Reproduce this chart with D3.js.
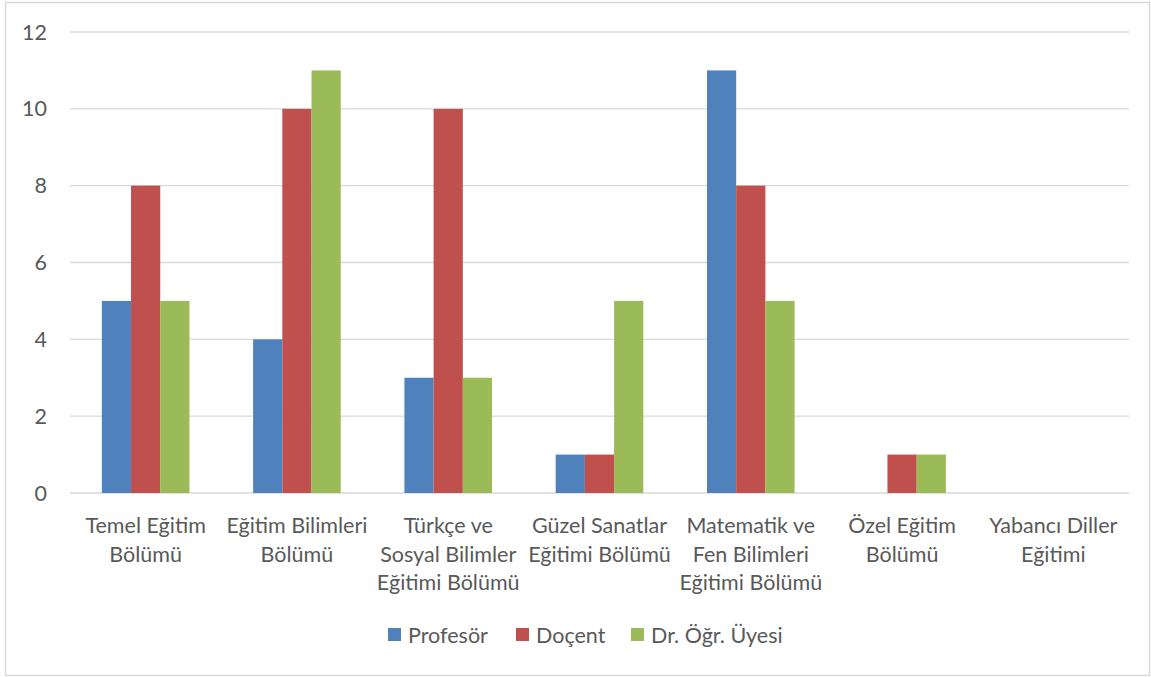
<!DOCTYPE html>
<html>
<head>
<meta charset="utf-8">
<script src="https://cdn.jsdelivr.net/npm/d3@7"></script>
<style>
  body { margin: 0; background: #fff; }
  text { font-family: Lato, "Open Sans", sans-serif; fill: #595959; }
</style>
</head>
<body>
<div id="chart"></div>
<script>
(function () {

    const categories = [
        'Temel Eğitim\nBölümü',
        'Eğitim Bilimleri\nBölümü',
        'Türkçe ve\nSosyal Bilimler\nEğitimi Bölümü',
        'Güzel Sanatlar\nEğitimi Bölümü',
        'Matematik ve\nFen Bilimleri\nEğitimi Bölümü',
        'Özel Eğitim\nBölümü',
        'Yabancı Diller\nEğitimi'
    ];
    const seriesNames = ['Profesör', 'Doçent', 'Dr. Öğr. Üyesi'];
    const profesor = [5, 4, 3, 1, 11, 0, 0];
    const docent = [8, 10, 10, 1, 8, 1, 0];
    const drOgrUyesi = [5, 11, 3, 5, 5, 1, 0];
    const yTicks = [0, 2, 4, 6, 8, 10, 12];
    const colors = ['#4F81BD', '#C0504D', '#9BBB59'];

    const seriesValues = [profesor, docent, drOgrUyesi];

    const width = 1151;
    const height = 677;
    const plot = { left: 70, right: 1129, top: 32, bottom: 493 };
    const fontSize = '21.5px';

    const svg = d3.select('#chart')
        .append('svg')
        .attr('width', width)
        .attr('height', height);

    // outer frame
    svg.append('rect')
        .attr('x', 5.5)
        .attr('y', 2.5)
        .attr('width', 1144)
        .attr('height', 673)
        .attr('fill', '#fff')
        .attr('stroke', '#D9D9D9')
        .attr('stroke-width', 1.5);

    const x = d3.scaleBand()
        .domain(categories)
        .range([plot.left, plot.right])
        .paddingInner(0)
        .paddingOuter(0);

    const xInner = d3.scaleBand()
        .domain(seriesNames)
        .range([0, x.bandwidth()])
        .paddingOuter(1.09);

    const y = d3.scaleLinear()
        .domain([0, 12])
        .range([plot.bottom, plot.top]);

    // gridlines
    svg.append('g')
        .selectAll('line')
        .data(yTicks)
        .join('line')
        .attr('x1', plot.left)
        .attr('x2', plot.right)
        .attr('y1', d => y(d))
        .attr('y2', d => y(d))
        .attr('stroke', '#D9D9D9')
        .attr('stroke-width', 1.3);

    // y labels
    svg.append('g')
        .selectAll('text')
        .data(yTicks)
        .join('text')
        .attr('x', 47)
        .attr('y', d => y(d))
        .attr('dy', '0.35em')
        .attr('text-anchor', 'end')
        .style('font-size', fontSize)
        .text(d => d);

    // bars
    const groups = svg.append('g')
        .selectAll('g')
        .data(categories)
        .join('g')
        .attr('transform', d => `translate(${x(d)},0)`);

    groups.selectAll('rect')
        .data((d, i) => seriesNames.map((s, j) => ({ s, v: seriesValues[j][i], c: colors[j] })))
        .join('rect')
        .attr('x', d => xInner(d.s))
        .attr('width', xInner.bandwidth())
        .attr('y', d => y(d.v))
        .attr('height', d => y(0) - y(d.v))
        .attr('fill', d => d.c);

    // category labels
    const labels = svg.append('g')
        .selectAll('text')
        .data(categories)
        .join('text')
        .attr('x', d => x(d) + x.bandwidth() / 2)
        .attr('y', 533)
        .attr('text-anchor', 'middle')
        .style('font-size', fontSize);

    labels.selectAll('tspan')
        .data(d => d.split('\n'))
        .join('tspan')
        .attr('x', function () { return this.parentNode.getAttribute('x'); })
        .attr('dy', (d, i) => i === 0 ? 0 : 28.5)
        .text(d => d);

    // legend
    const legendX = [388, 516, 631];
    const legend = svg.append('g')
        .selectAll('g')
        .data(seriesNames)
        .join('g')
        .attr('transform', (d, i) => `translate(${legendX[i]},628)`);

    legend.append('rect')
        .attr('width', 13)
        .attr('height', 13)
        .attr('fill', (d, i) => colors[i]);

    legend.append('text')
        .attr('x', 20)
        .attr('y', 7)
        .attr('dy', '0.35em')
        .style('font-size', fontSize)
        .text(d => d);

})();
</script>
</body>
</html>
